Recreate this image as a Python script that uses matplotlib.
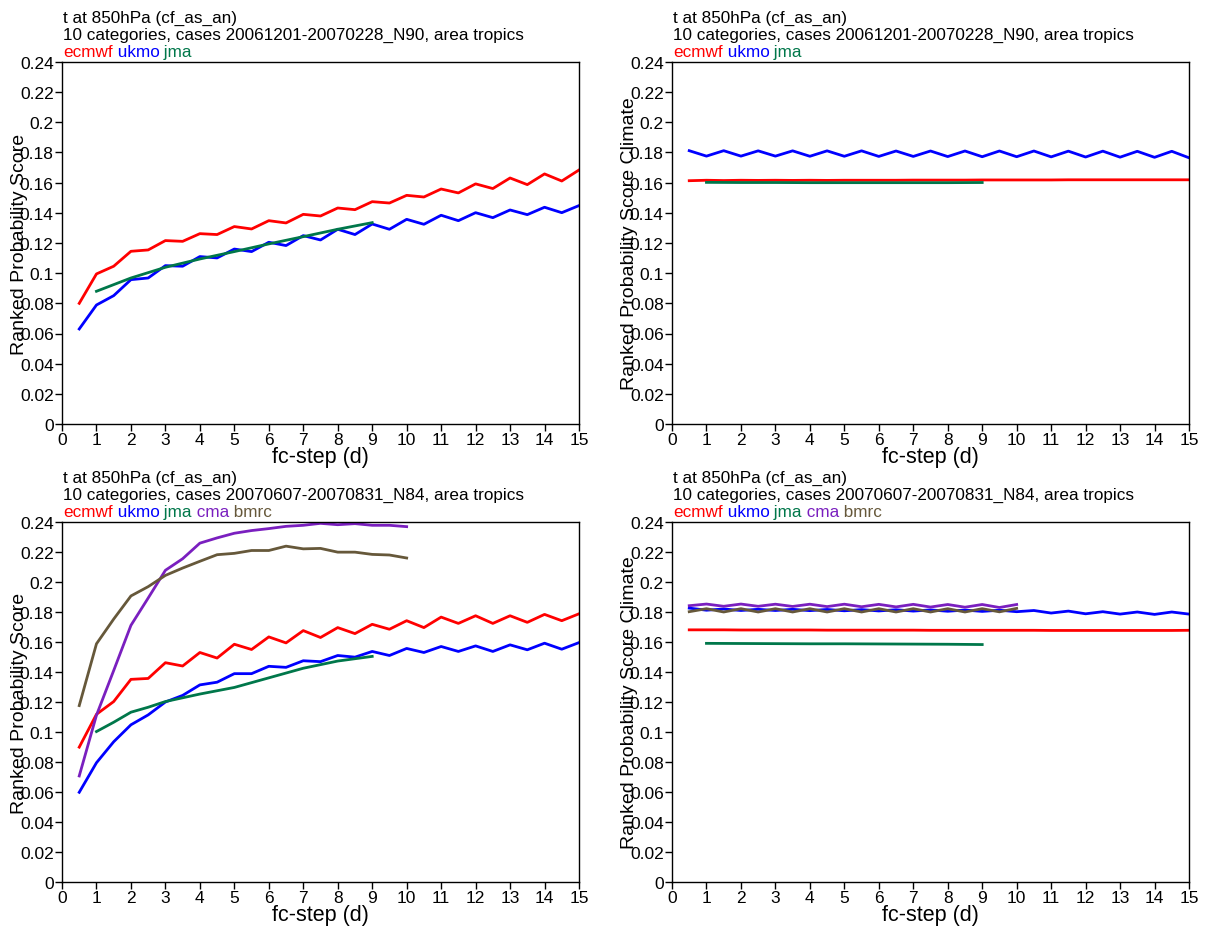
import numpy as np
import matplotlib
matplotlib.use("Agg")
import matplotlib.pyplot as plt
from matplotlib.ticker import FuncFormatter, MultipleLocator

plt.rcParams['font.family'] = ['Liberation Sans', 'DejaVu Sans']

# ---------------- data ----------------
steps = np.arange(0.5, 15.01, 0.5)          # 0.5 .. 15 days
steps10 = np.arange(0.5, 10.01, 0.5)        # 0.5 .. 10 days
jma_steps = [1, 2, 3, 4, 5, 6, 7, 8, 9]
jma_steps_jja = [1, 1.5, 2, 2.5, 3, 4, 5, 6, 7, 8, 9]

# DJF, RPS
ecmwf_djf = [0.0800, 0.0995, 0.1046, 0.1145, 0.1154, 0.1216, 0.1211, 0.1262, 0.1256, 0.1309,
             0.1293, 0.1348, 0.1333, 0.1390, 0.1379, 0.1432, 0.1421, 0.1474, 0.1465, 0.1516,
             0.1505, 0.1558, 0.1532, 0.1592, 0.1561, 0.1631, 0.1587, 0.1658, 0.1611, 0.1684]
ukmo_djf = [0.0630, 0.0789, 0.0851, 0.0957, 0.0968, 0.1050, 0.1046, 0.1110, 0.1101, 0.1160,
            0.1143, 0.1205, 0.1183, 0.1249, 0.1220, 0.1291, 0.1256, 0.1326, 0.1291, 0.1357,
            0.1324, 0.1384, 0.1348, 0.1401, 0.1368, 0.1419, 0.1388, 0.1437, 0.1401, 0.1448]
jma_djf = [0.0880, 0.0968, 0.1039, 0.1094, 0.1143, 0.1194, 0.1242, 0.1291, 0.1335]

# DJF, RPS climate
ecmwf_clim_djf = [0.1613, 0.1616, 0.1614, 0.1616, 0.1615, 0.1616, 0.1615, 0.1616, 0.1615, 0.1616,
                  0.1616, 0.1616, 0.1616, 0.1617, 0.1617, 0.1617, 0.1617, 0.1618, 0.1618, 0.1618,
                  0.1618, 0.1618, 0.1619, 0.1619, 0.1619, 0.1619, 0.1619, 0.1619, 0.1619, 0.1619]
ukmo_clim_djf = [0.1812, 0.1776, 0.1812, 0.1776, 0.1811, 0.1776, 0.1811, 0.1775, 0.1811, 0.1775,
                 0.1811, 0.1774, 0.1810, 0.1774, 0.1810, 0.1773, 0.1810, 0.1772, 0.1810, 0.1772,
                 0.1810, 0.1771, 0.1809, 0.1770, 0.1809, 0.1769, 0.1808, 0.1768, 0.1808, 0.1765]
jma_clim_djf = [0.1602, 0.1601, 0.1601, 0.1600, 0.1600, 0.1600, 0.1600, 0.1600, 0.1601]

# JJA, RPS
ecmwf_jja = [0.0899, 0.1118, 0.1203, 0.1351, 0.1357, 0.1462, 0.1440, 0.1530, 0.1493, 0.1585,
             0.1550, 0.1634, 0.1594, 0.1676, 0.1630, 0.1696, 0.1656, 0.1718, 0.1685, 0.1742,
             0.1696, 0.1766, 0.1724, 0.1775, 0.1724, 0.1775, 0.1731, 0.1784, 0.1742, 0.1788]
ukmo_jja = [0.0598, 0.0795, 0.0935, 0.1048, 0.1114, 0.1200, 0.1244, 0.1314, 0.1332, 0.1389,
            0.1389, 0.1438, 0.1431, 0.1475, 0.1469, 0.1510, 0.1499, 0.1537, 0.1510, 0.1557,
            0.1530, 0.1570, 0.1537, 0.1574, 0.1537, 0.1581, 0.1548, 0.1592, 0.1552, 0.1596]
jma_jja = [0.1003, 0.1065, 0.1132, 0.1165, 0.1203, 0.1253, 0.1297, 0.1361, 0.1425, 0.1473, 0.1504]
cma_jja = [0.0707, 0.1112, 0.1410, 0.1711, 0.1893, 0.2078, 0.2155, 0.2259, 0.2294, 0.2325,
           0.2343, 0.2356, 0.2371, 0.2378, 0.2391, 0.2382, 0.2389, 0.2378, 0.2378, 0.2369]
bmrc_jja = [0.1176, 0.1588, 0.1753, 0.1907, 0.1969, 0.2044, 0.2093, 0.2138, 0.2182, 0.2191,
            0.2210, 0.2210, 0.2239, 0.2221, 0.2224, 0.2199, 0.2199, 0.2184, 0.2180, 0.2160]

# JJA, RPS climate
ecmwf_clim_jja = [0.1681, 0.1681, 0.1681, 0.1680, 0.1680, 0.1680, 0.1680, 0.1680, 0.1679, 0.1679,
                  0.1679, 0.1679, 0.1679, 0.1679, 0.1678, 0.1678, 0.1678, 0.1678, 0.1678, 0.1678,
                  0.1678, 0.1677, 0.1677, 0.1677, 0.1677, 0.1677, 0.1677, 0.1677, 0.1677, 0.1678]
ukmo_clim_jja = [0.1826, 0.1812, 0.1820, 0.1810, 0.1818, 0.1810, 0.1818, 0.1809, 0.1817, 0.1808,
                 0.1816, 0.1807, 0.1815, 0.1806, 0.1814, 0.1805, 0.1813, 0.1804, 0.1812, 0.1802,
                 0.1810, 0.1793, 0.1806, 0.1788, 0.1802, 0.1786, 0.1800, 0.1784, 0.1800, 0.1786]
jma_clim_jja = [0.1591, 0.1590, 0.1589, 0.1588, 0.1588, 0.1587, 0.1586, 0.1585, 0.1583]
cma_clim_jja = [0.1842, 0.1853, 0.1838, 0.1853, 0.1838, 0.1852, 0.1837, 0.1852, 0.1836, 0.1852,
                0.1835, 0.1851, 0.1834, 0.1851, 0.1833, 0.1850, 0.1832, 0.1850, 0.1830, 0.1850]
bmrc_clim_jja = [0.1802, 0.1822, 0.1800, 0.1822, 0.1800, 0.1822, 0.1800, 0.1822, 0.1800, 0.1822,
                 0.1800, 0.1822, 0.1800, 0.1822, 0.1800, 0.1822, 0.1800, 0.1822, 0.1801, 0.1824]

title1 = "t at 850hPa (cf_as_an)"
title2_djf = "10 categories, cases 20061201-20070228_N90, area tropics"
title2_jja = "10 categories, cases 20070607-20070831_N84, area tropics"
ylabel_rps = "Ranked Probability Score"
ylabel_clim = "Ranked Probability Score Climate"
xlabel = "fc-step (d)"

colors = {"ecmwf": "#ff0000", "ukmo": "#0000ff", "jma": "#00774a",
          "cma": "#7a1fbf", "bmrc": "#66583a"}

# ---------------- figure ----------------
W, H = 1205, 929
fig = plt.figure(figsize=(W / 100, H / 100), dpi=100)

def box(l, t, r, b):
    return [l / W, 1 - b / H, (r - l) / W, (b - t) / H]

axes_boxes = [box(62, 63, 579, 425), box(672, 63, 1189, 425),
              box(62, 523, 579, 883), box(672, 523, 1189, 883)]

fmt = FuncFormatter(lambda v, p: ("%.2f" % v).rstrip('0').rstrip('.'))
LW = 2.0
TFS = 12.3

def setup(ax, ylab, t2, models):
    ax.set_xlim(0, 15)
    ax.set_ylim(0, 0.24)
    ax.xaxis.set_major_locator(MultipleLocator(1))
    ax.yaxis.set_major_locator(MultipleLocator(0.02))
    ax.yaxis.set_major_formatter(fmt)
    ax.tick_params(direction='out', length=5, width=1, labelsize=12.5, pad=1,
                   top=False, right=False)
    for s in ax.spines.values():
        s.set_linewidth(1)
    ax.set_xlabel(xlabel, fontsize=15.5, labelpad=-1)
    ax.set_ylabel(ylab, fontsize=14)
    ax.yaxis.set_label_coords(-0.066, 0.5)
    ax.annotate(title1, xy=(0, 1), xycoords='axes fraction', xytext=(1, 40),
                textcoords='offset pixels', va='baseline', ha='left', fontsize=TFS)
    ax.annotate(t2, xy=(0, 1), xycoords='axes fraction', xytext=(1, 23),
                textcoords='offset pixels', va='baseline', ha='left', fontsize=TFS)
    prev = ax.annotate(models[0], xy=(0, 1), xycoords='axes fraction', xytext=(1, 6),
                       textcoords='offset pixels', va='baseline', ha='left',
                       fontsize=TFS, color=colors[models[0]])
    for m in models[1:]:
        prev = ax.annotate(" " + m, xy=(1, 0), xycoords=prev, va='bottom', ha='left',
                           fontsize=TFS, color=colors[m])

ax1 = fig.add_axes(axes_boxes[0])
ax1.plot(steps, ecmwf_djf, color=colors["ecmwf"], lw=LW)
ax1.plot(steps, ukmo_djf, color=colors["ukmo"], lw=LW)
ax1.plot(jma_steps, jma_djf, color=colors["jma"], lw=LW)
setup(ax1, ylabel_rps, title2_djf, ["ecmwf", "ukmo", "jma"])

ax2 = fig.add_axes(axes_boxes[1])
ax2.plot(steps, ecmwf_clim_djf, color=colors["ecmwf"], lw=LW)
ax2.plot(steps, ukmo_clim_djf, color=colors["ukmo"], lw=LW)
ax2.plot(jma_steps, jma_clim_djf, color=colors["jma"], lw=LW)
setup(ax2, ylabel_clim, title2_djf, ["ecmwf", "ukmo", "jma"])

ax3 = fig.add_axes(axes_boxes[2])
ax3.plot(steps, ecmwf_jja, color=colors["ecmwf"], lw=LW)
ax3.plot(steps, ukmo_jja, color=colors["ukmo"], lw=LW)
ax3.plot(jma_steps_jja, jma_jja, color=colors["jma"], lw=LW)
ax3.plot(steps10, cma_jja, color=colors["cma"], lw=LW)
ax3.plot(steps10, bmrc_jja, color=colors["bmrc"], lw=LW)
setup(ax3, ylabel_rps, title2_jja, ["ecmwf", "ukmo", "jma", "cma", "bmrc"])

ax4 = fig.add_axes(axes_boxes[3])
ax4.plot(steps, ecmwf_clim_jja, color=colors["ecmwf"], lw=LW)
ax4.plot(steps, ukmo_clim_jja, color=colors["ukmo"], lw=LW)
ax4.plot(jma_steps, jma_clim_jja, color=colors["jma"], lw=LW)
ax4.plot(steps10, cma_clim_jja, color=colors["cma"], lw=LW)
ax4.plot(steps10, bmrc_clim_jja, color=colors["bmrc"], lw=LW)
setup(ax4, ylabel_clim, title2_jja, ["ecmwf", "ukmo", "jma", "cma", "bmrc"])

fig.savefig("out.png", dpi=100)
